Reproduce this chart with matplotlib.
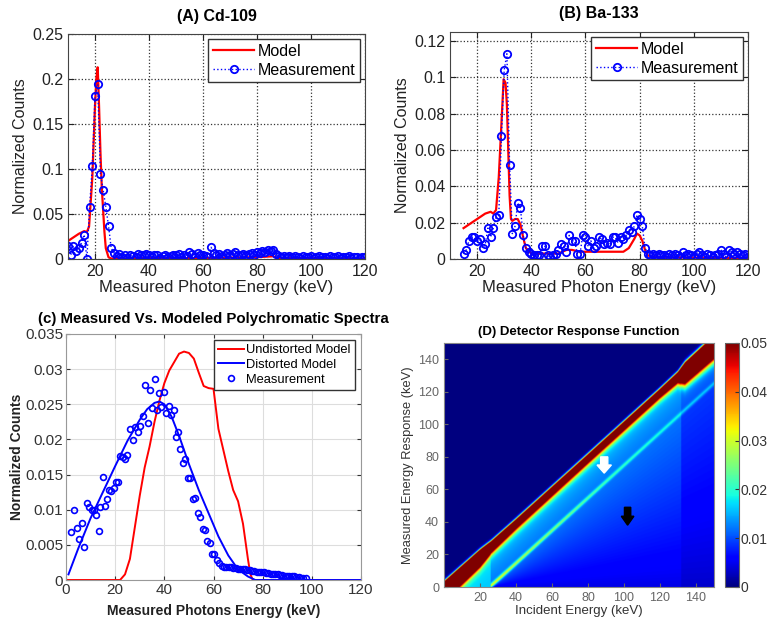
import numpy as np
import matplotlib
matplotlib.use("Agg")
import matplotlib.pyplot as plt
from matplotlib.patches import FancyArrow

plt.rcParams['font.family'] = ['Liberation Sans', 'DejaVu Sans']

# ---------------- (A) Cd-109 ----------------
cd_energy = np.arange(10, 121)
cd_meas = [0.015, 0.004, 0.014, 0.009, 0.012, 0.018, 0.027, 0.000, 0.058, 0.103,
           0.181, 0.194, 0.095, 0.077, 0.058, 0.037, 0.012, 0.007, 0.003, 0.006,
           0.002, 0.005, 0.001, 0.004, 0.003, 0.002, 0.006, 0.005, 0.004, 0.006,
           0.005, 0.002, 0.004, 0.005, 0.001, 0.003, 0.004, 0.002, 0.003, 0.005,
           0.004, 0.006, 0.002, 0.005, 0.003, 0.008, 0.006, 0.002, 0.007, 0.004,
           0.005, 0.003, 0.002, 0.013, 0.007, 0.004, 0.006, 0.003, 0.005, 0.007,
           0.004, 0.006, 0.008, 0.005, 0.004, 0.006, 0.004, 0.006, 0.007, 0.005,
           0.008, 0.007, 0.009, 0.008, 0.010, 0.009, 0.010, 0.006, 0.003, 0.002,
           0.003, 0.002, 0.003, 0.002, 0.003, 0.002, 0.001, 0.003, 0.002, 0.002,
           0.003, 0.001, 0.002, 0.003, 0.002, 0.002, 0.001, 0.003, 0.002, 0.002,
           0.003, 0.001, 0.002, 0.002, 0.003, 0.001, 0.002, 0.002, 0.001, 0.002,
           0.002]
cd_model_e = [10, 12, 14, 16, 17, 17.8, 19, 20, 20.5, 21, 21.5, 22, 22.5, 23,
              23.5, 24, 25, 26, 40, 60, 80, 86, 88, 120]
cd_model = [0.020, 0.024, 0.028, 0.031, 0.030, 0.036, 0.090, 0.170, 0.200, 0.213,
            0.170, 0.120, 0.080, 0.055, 0.030, 0.012, 0.002, 0.0005, 0.001, 0.001,
            0.002, 0.003, 0.001, 0.0005]

# ---------------- (B) Ba-133 ----------------
ba_energy = np.arange(15, 121)
ba_meas = [0.003, 0.005, 0.010, 0.012, 0.012, 0.010, 0.011, 0.006, 0.008, 0.017,
           0.012, 0.017, 0.023, 0.024, 0.068, 0.104, 0.113, 0.052, 0.014, 0.018,
           0.031, 0.028, 0.013, 0.006, 0.004, 0.003, 0.002, 0.002, 0.002, 0.007,
           0.007, 0.002, 0.001, 0.002, 0.003, 0.005, 0.008, 0.007, 0.004, 0.013,
           0.010, 0.010, 0.003, 0.003, 0.013, 0.012, 0.007, 0.010, 0.006, 0.007,
           0.012, 0.011, 0.008, 0.009, 0.008, 0.012, 0.012, 0.009, 0.012, 0.011,
           0.013, 0.016, 0.015, 0.018, 0.024, 0.022, 0.018, 0.006, 0.003, 0.002,
           0.003, 0.002, 0.003, 0.002, 0.002, 0.001, 0.003, 0.002, 0.003, 0.002,
           0.001, 0.004, 0.002, 0.003, 0.002, 0.001, 0.003, 0.004, 0.002, 0.001,
           0.003, 0.002, 0.001, 0.002, 0.003, 0.005, 0.003, 0.001, 0.005, 0.004,
           0.003, 0.004, 0.003, 0.002, 0.003, 0.001]
ba_model_e = [15, 17, 20, 23, 25, 26, 27, 28, 29, 29.8, 30.5, 31, 31.5, 32, 32.5,
              33, 34, 35, 36, 37, 38, 40, 45, 50, 53, 55, 58, 62, 70, 74, 76, 78,
              79, 80, 81, 82, 83, 85, 100, 120]
ba_model = [0.017, 0.019, 0.022, 0.025, 0.026, 0.025, 0.027, 0.045, 0.075, 0.099,
            0.097, 0.085, 0.060, 0.035, 0.022, 0.021, 0.022, 0.022, 0.019, 0.012,
            0.006, 0.003, 0.003, 0.003, 0.005, 0.005, 0.004, 0.004, 0.004, 0.004,
            0.006, 0.011, 0.014, 0.013, 0.010, 0.005, 0.002, 0.001, 0.0008, 0.0005]

# ---------------- (c) polychromatic spectra ----------------
poly_meas_e = [2.0, 3.4, 4.5, 5.4, 6.5, 7.5, 8.5, 9.5, 10.6, 11.5, 12.3, 13.3, 14.0,
               15.0, 15.7, 16.7, 17.6, 18.5, 19.5, 20.4, 21.3, 22.0, 23.0, 24.1,
               25.0, 26.2, 27.1, 28.2, 29.1, 30.2, 31.2, 32.2, 33.2, 34.1, 35.1,
               36.0, 37.0, 37.8, 38.6, 39.7, 40.6, 41.7, 42.7, 43.8, 44.7, 45.5,
               46.5, 47.4, 48.5, 49.6, 50.5, 51.6, 52.6, 53.5, 54.6, 55.6, 56.5,
               57.5, 58.4, 59.3, 60.3, 61.4, 62.3, 63.3,
               64.3, 65.2, 66.2, 67.1, 68.1, 69.0, 70.0, 70.9, 71.9, 72.8, 73.8,
               74.7, 75.7, 76.6, 77.6, 78.5, 79.5, 80.4, 81.4, 82.3, 83.3, 84.2,
               85.2, 86.1, 87.1, 88.0, 89.0, 89.9, 90.9, 91.8, 92.8, 93.7, 94.7,
               95.6, 96.6, 97.5]
poly_meas = [0.0068, 0.0100, 0.0074, 0.0058, 0.0081, 0.0047, 0.0109, 0.0104, 0.0100,
             0.0099, 0.0093, 0.0070, 0.0104, 0.0146, 0.0105, 0.0115, 0.0128, 0.0126,
             0.0131, 0.0139, 0.0140, 0.0176, 0.0175, 0.0172, 0.0178, 0.0215, 0.0199,
             0.0218, 0.0211, 0.0219, 0.0233, 0.0278, 0.0224, 0.0270, 0.0245, 0.0286,
             0.0242, 0.0266, 0.0246, 0.0267, 0.0237, 0.0248, 0.0235, 0.0242, 0.0204,
             0.0211, 0.0186, 0.0166, 0.0172, 0.0145, 0.0145, 0.0115, 0.0116, 0.0095,
             0.0089, 0.0072, 0.0071, 0.0055, 0.0052, 0.0037, 0.0037, 0.0029, 0.0024,
             0.0020,
             0.0019, 0.0019, 0.0018, 0.0018, 0.0017, 0.0017, 0.0016, 0.0016, 0.0015,
             0.0015, 0.0014, 0.0014, 0.0013, 0.0013, 0.0012, 0.0012, 0.0011, 0.0011,
             0.0010, 0.0010, 0.0009, 0.0009, 0.0008, 0.0008, 0.0007, 0.0007, 0.0006,
             0.0006, 0.0005, 0.0005, 0.0005, 0.0004, 0.0004, 0.0003, 0.0003, 0.0003]
undist_e = [0, 22, 24, 26, 28, 30, 32, 34, 36, 38, 40, 42, 44, 46, 48, 50, 52, 54,
            56, 58, 60, 62, 64, 66, 68, 70, 72, 74, 75, 76, 120]
undist = [0, 0, 0.0008, 0.0030, 0.0075, 0.0120, 0.0160, 0.0190, 0.0225, 0.0255,
          0.0280, 0.0298, 0.0310, 0.0322, 0.0325, 0.0323, 0.0315, 0.0295, 0.0276,
          0.0273, 0.0272, 0.0215, 0.0185, 0.0155, 0.0128, 0.0112, 0.0080, 0.0030,
          0.0008, 0, 0]
dist_e = [1, 5, 10, 15, 20, 25, 30, 33, 36, 38, 40, 43, 46, 50, 54, 58, 62, 66, 70,
          74, 77, 120]
dist = [0.0008, 0.0045, 0.0088, 0.0125, 0.0162, 0.0198, 0.0228, 0.0243, 0.0252,
        0.0254, 0.0250, 0.0232, 0.0205, 0.0165, 0.0128, 0.0095, 0.0062, 0.0035,
        0.0015, 0.0005, 0.0, 0.0]

# ---------------- (D) detector response ----------------
peak_knot_e = [0, 20, 26, 40, 80, 120, 130, 134, 150]
peak_amp = [0.30, 0.22, 0.11, 0.08, 0.075, 0.075, 0.09, 0.20, 0.22]
peak_sigma = [2.8, 2.6, 2.2, 2.1, 2.0, 2.0, 2.2, 3.4, 3.6]
tail_amp = [0.016, 0.014, 0.013, 0.012, 0.011, 0.010, 0.010, 0.010, 0.010]
esc_knot_e = [26, 40, 80, 120, 150]
esc_amp = [0.020, 0.016, 0.010, 0.007, 0.006]
esc_offset = 25.5
k_edge = 26
cutoff_e = 132

inc = np.linspace(0, 150, 601)
X, Y = np.meshgrid(inc, inc)
d = Y - X
A = np.interp(X, peak_knot_e, peak_amp)
S = np.interp(X, peak_knot_e, peak_sigma)
T = np.interp(X, peak_knot_e, tail_amp)
sig = np.where(d > 0, S * 0.6, S * 1.5)
resp = A * np.exp(-0.5 * (d / sig) ** 2)
below = d < 0
resp = resp + np.where(below, T * np.exp(np.minimum(d, 0) / 6.0), 0)
esc_line = X - esc_offset
frac_between = np.clip((Y - esc_line) / esc_offset, 0, 1)
frac_below = np.clip(Y / np.maximum(esc_line, 1), 0, 1)
cont = np.where(Y > esc_line, 0.012 + 0.002 * frac_between,
                0.0045 + 0.0075 * frac_below ** 0.9)
cont = np.where(X < k_edge, 0.016, cont)
cont = np.where((X >= cutoff_e) & (Y < esc_line), cont * 0.75, cont)
cont = np.where((X >= cutoff_e) & (Y >= esc_line), cont * 0.85, cont)
resp = resp + np.where(below, cont, 0)
esc = np.interp(X, esc_knot_e, esc_amp) * np.exp(-0.5 * ((Y - esc_line) / 1.0) ** 2)
resp = resp + np.where(X >= k_edge, esc, 0)

# ---------------- figure ----------------
fig = plt.figure(figsize=(7.68, 6.27), dpi=100)
W, H = 768, 627


def box(l, t, r, b):
    return [l / W, 1 - b / H, (r - l) / W, (b - t) / H]


def matlab_old(ax):
    ax.grid(True, color='#333333', linestyle=':', linewidth=0.9)
    ax.tick_params(direction='in', top=True, right=True, labelsize=11.5, length=4,
                   colors='#222222')
    for s in ax.spines.values():
        s.set_color('#444444')


# (A)
ax1 = fig.add_axes(box(68, 34, 365, 259))
ax1.plot(cd_model_e, cd_model, color='red', lw=1.6, label='Model')
ax1.plot(cd_energy, cd_meas, color='blue', ls=':', lw=1.0, marker='o', ms=5.3,
         mfc='none', mew=1.3, label='Measurement')
ax1.set_xlim(10, 120)
ax1.set_ylim(0, 0.25)
ax1.set_xticks([20, 40, 60, 80, 100, 120])
ax1.set_yticks([0, 0.05, 0.1, 0.15, 0.2, 0.25])
ax1.set_yticklabels(['0', '0.05', '0.1', '0.15', '0.2', '0.25'])
matlab_old(ax1)
ax1.set_title('(A) Cd-109', fontsize=11.5, fontweight='bold', pad=9)
ax1.set_xlabel('Measured Photon Energy (keV)', fontsize=12, labelpad=1, color='#222222')
ax1.set_ylabel('Normalized Counts', fontsize=11.5, labelpad=3, color='#222222')
ax1.legend(loc='upper right', fontsize=11.5, fancybox=False, edgecolor='#333333',
           framealpha=1, borderaxespad=0.3, handlelength=2.6, handletextpad=0.2,
           borderpad=0.3, labelspacing=0.25)

# (B)
ax2 = fig.add_axes(box(450, 32, 748, 259))
ax2.plot(ba_model_e, ba_model, color='red', lw=1.6, label='Model')
ax2.plot(ba_energy, ba_meas, color='blue', ls=':', lw=1.0, marker='o', ms=5.3,
         mfc='none', mew=1.3, label='Measurement')
ax2.set_xlim(10, 120)
ax2.set_ylim(0, 0.125)
ax2.set_xticks([20, 40, 60, 80, 100, 120])
ax2.set_yticks([0, 0.02, 0.04, 0.06, 0.08, 0.1, 0.12])
ax2.set_yticklabels(['0', '0.02', '0.04', '0.06', '0.08', '0.1', '0.12'])
matlab_old(ax2)
ax2.set_title('(B) Ba-133', fontsize=11.5, fontweight='bold', pad=10)
ax2.set_xlabel('Measured Photon Energy (keV)', fontsize=12, labelpad=1, color='#222222')
ax2.set_ylabel('Normalized Counts', fontsize=11.5, labelpad=3, color='#222222')
ax2.legend(loc='upper right', fontsize=11.5, fancybox=False, edgecolor='#333333',
           framealpha=1, borderaxespad=0.3, handlelength=2.6, handletextpad=0.2,
           borderpad=0.3, labelspacing=0.25)

# (c)
ax3 = fig.add_axes(box(66, 334, 361, 580))
ax3.plot(undist_e, undist, color='red', lw=1.4, label='Undistorted Model')
ax3.plot(dist_e, dist, color='blue', lw=1.4, label='Distorted Model')
ax3.plot(poly_meas_e, poly_meas, ls='none', marker='o', ms=4.2, mfc='none',
         mec='blue', mew=1.2, label='Measurement')
ax3.set_xlim(0, 120)
ax3.set_ylim(0, 0.035)
ax3.set_xticks([0, 20, 40, 60, 80, 100, 120])
ax3.set_yticks([0, 0.005, 0.01, 0.015, 0.02, 0.025, 0.03, 0.035])
ax3.set_yticklabels(['0', '0.005', '0.01', '0.015', '0.02', '0.025', '0.03', '0.035'])
ax3.grid(True, color='#dddddd', linewidth=0.8)
ax3.tick_params(direction='in', top=True, right=True, labelsize=11, length=3,
                colors='#333333', pad=2)
for s in ax3.spines.values():
    s.set_color('#999999')
ax3.set_title('(c) Measured Vs. Modeled Polychromatic Spectra', fontsize=10.8,
              fontweight='bold', pad=8)
ax3.set_xlabel('Measured Photons Energy (keV)', fontsize=10, fontweight='bold',
               labelpad=5, color='#222222')
ax3.set_ylabel('Normalized Counts', fontsize=10, fontweight='bold', labelpad=1,
               color='#222222')
ax3.legend(loc='upper right', fontsize=9.3, fancybox=False, edgecolor='#333333',
           framealpha=1, borderaxespad=0.5, handlelength=2.0, handletextpad=0.2,
           borderpad=0.3, labelspacing=0.2)

# (D)
ax4 = fig.add_axes(box(444, 343, 714, 587))
im = ax4.imshow(resp, origin='lower', extent=[0, 150, 0, 150], aspect='auto',
                cmap='jet', vmin=0, vmax=0.05, interpolation='bilinear')
ax4.set_xticks([20, 40, 60, 80, 100, 120, 140])
ax4.set_yticks([0, 20, 40, 60, 80, 100, 120, 140])
ax4.tick_params(direction='in', labelsize=9, length=3, colors='#666666')
for s in ax4.spines.values():
    s.set_color('#888888')
ax4.set_title('(D) Detector Response Function', fontsize=9.5, fontweight='bold', pad=6)
ax4.set_xlabel('Incident Energy (keV)', fontsize=9.5, labelpad=1, color='#333333')
ax4.set_ylabel('Measured Energy Response (keV)', fontsize=9.3, labelpad=3, color='#333333')
# arrows marking escape line and continuum
white_arrow = (89, 80)
black_arrow = (102, 49)
ax4.add_patch(FancyArrow(white_arrow[0], white_arrow[1], 0, -10, width=4, head_width=8,
                         head_length=5, length_includes_head=True, fc='white', ec='white'))
ax4.add_patch(FancyArrow(black_arrow[0], black_arrow[1], 0, -11, width=3.5, head_width=7,
                         head_length=5.5, length_includes_head=True, fc='black', ec='black'))

cax = fig.add_axes(box(725, 343, 739, 587))
cb = fig.colorbar(im, cax=cax, ticks=[0, 0.01, 0.02, 0.03, 0.04, 0.05])
cb.ax.set_yticklabels(['0', '0.01', '0.02', '0.03', '0.04', '0.05'])
cb.ax.tick_params(labelsize=10, length=3, direction='in', colors='#333333', pad=1)
cb.outline.set_edgecolor('#666666')

fig.savefig('out.png', dpi=100)
